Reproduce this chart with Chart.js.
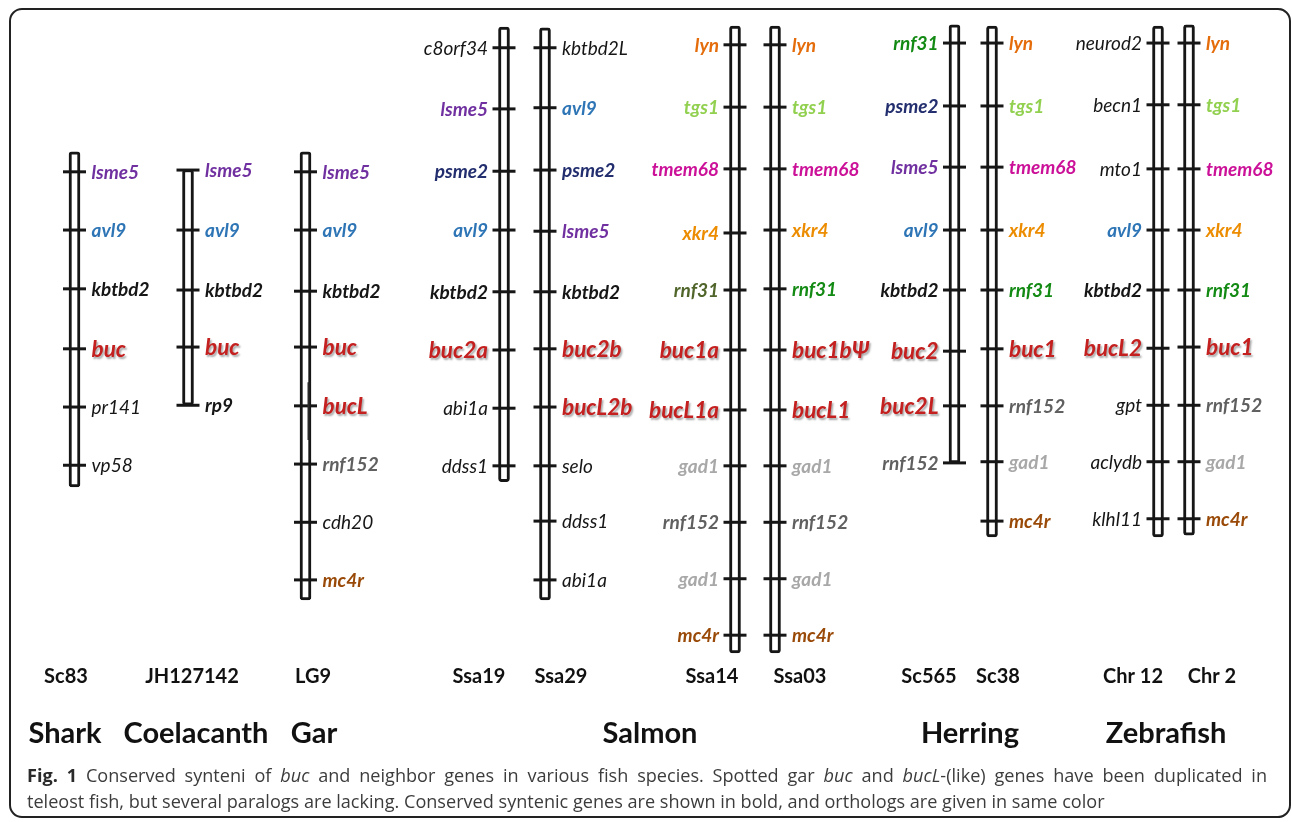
<!DOCTYPE html>
<html>
<head>
<meta charset="utf-8">
<script src="https://cdn.jsdelivr.net/npm/chart.js@4.4.1/dist/chart.umd.min.js"></script>
<style>
  html, body { margin: 0; padding: 0; background: #fff; }
  #wrap { position: relative; width: 1292px; height: 822px; overflow: hidden; }
  #wrap canvas { position: absolute; left: 0; top: 0; }
  #frame {
    position: absolute; left: 9px; top: 8px; width: 1282px; height: 810px;
    border: 2px solid #222; border-radius: 13px; box-sizing: border-box; pointer-events: none;
  }
  #caption {
    position: absolute; left: 27px; top: 762px; white-space: nowrap;
    font-family: "Open Sans", Lato, sans-serif; font-size: 18px; line-height: 26px; color: #3c3c3c;
  }
  #caption b { color: #2a2a2a; }
</style>
</head>
<body>
<div id="wrap">
  <canvas id="chart" width="1292" height="822"></canvas>
  <div id="frame"></div>
  <div id="caption"><span id="cap1"><b>Fig. 1</b> Conserved synteni of <i>buc</i> and neighbor genes in various fish species. Spotted gar <i>buc</i> and <i>bucL</i>-(like) genes have been duplicated in</span><br><span id="cap2">teleost fish, but several paralogs are lacking. Conserved syntenic genes are shown in bold, and orthologs are given in same color</span></div>
</div>
<script>
// ---- chromosomes / scaffolds and the species they belong to ----
const chromosomes = ['Sc83', 'JH127142', 'LG9', 'Ssa19', 'Ssa29', 'Ssa14', 'Ssa03', 'Sc565', 'Sc38', 'Chr 12', 'Chr 2'];
const species = ['Shark', 'Coelacanth', 'Gar', 'Salmon', 'Herring', 'Zebrafish'];

// extent of each drawn chromosome segment (relative position units)
const chromStart = [18.0, 21.0, 18.0, -3.2, -3.1, -3.4, -3.4, -3.6, -3.4, -3.4, -3.6];
const chromEnd   = [75.0, 61.1, 94.2, 74.1, 94.2, 103.2, 103.2, 70.9, 83.5, 83.5, 83.2];

// genes along each chromosome, with their relative positions
const genesSc83 = ['lsme5', 'avl9', 'kbtbd2', 'buc', 'pr141', 'vp58'];
const posSc83   = [21.4, 31.3, 41.3, 51.5, 61.4, 71.3];

const genesJH127142 = ['lsme5', 'avl9', 'kbtbd2', 'buc', 'rp9'];
const posJH127142   = [21.1, 31.3, 41.5, 51.2, 61.1];

const genesLG9 = ['lsme5', 'avl9', 'kbtbd2', 'buc', 'bucL', 'rnf152', 'cdh20', 'mc4r'];
const posLG9   = [21.4, 31.3, 41.7, 51.2, 61.2, 71.1, 81.0, 90.8];

const genesSsa19 = ['c8orf34', 'lsme5', 'psme2', 'avl9', 'kbtbd2', 'buc2a', 'abi1a', 'ddss1'];
const posSsa19   = [0.3, 10.7, 21.3, 31.3, 41.8, 51.7, 61.6, 71.4];

const genesSsa29 = ['kbtbd2L', 'avl9', 'psme2', 'lsme5', 'kbtbd2', 'buc2b', 'bucL2b', 'selo', 'ddss1', 'abi1a'];
const posSsa29   = [0.3, 10.5, 21.1, 31.5, 41.8, 51.5, 61.4, 71.4, 80.8, 90.8];

const genesSsa14 = ['lyn', 'tgs1', 'tmem68', 'xkr4', 'rnf31', 'buc1a', 'bucL1a', 'gad1', 'rnf152', 'gad1', 'mc4r'];
const posSsa14   = [-0.2, 10.4, 20.9, 31.8, 41.5, 51.7, 61.9, 71.4, 81.0, 90.6, 100.2];

const genesSsa03 = ['lyn', 'tgs1', 'tmem68', 'xkr4', 'rnf31', 'buc1b\u03A8', 'bucL1', 'gad1', 'rnf152', 'gad1', 'mc4r'];
const posSsa03   = [-0.2, 10.4, 20.9, 31.3, 41.3, 51.7, 61.9, 71.4, 81.0, 90.6, 100.2];

const genesSc565 = ['rnf31', 'psme2', 'lsme5', 'avl9', 'kbtbd2', 'buc2', 'buc2L', 'rnf152'];
const posSc565   = [-0.5, 10.2, 20.6, 31.3, 41.5, 51.9, 61.2, 70.9];

const genesSc38 = ['lyn', 'tgs1', 'tmem68', 'xkr4', 'rnf31', 'buc1', 'rnf152', 'gad1', 'mc4r'];
const posSc38   = [-0.5, 10.2, 20.6, 31.3, 41.5, 51.5, 61.2, 70.7, 80.8];

const genesChr12 = ['neurod2', 'becn1', 'mto1', 'avl9', 'kbtbd2', 'bucL2', 'gpt', 'aclydb', 'klhl11'];
const posChr12   = [-0.5, 10.0, 20.9, 31.3, 41.5, 51.4, 61.1, 70.7, 80.4];

const genesChr2 = ['lyn', 'tgs1', 'tmem68', 'xkr4', 'rnf31', 'buc1', 'rnf152', 'gad1', 'mc4r'];
const posChr2   = [-0.5, 10.0, 20.9, 31.3, 41.5, 51.2, 61.1, 70.7, 80.4];

const geneLists = [genesSc83, genesJH127142, genesLG9, genesSsa19, genesSsa29, genesSsa14, genesSsa03, genesSc565, genesSc38, genesChr12, genesChr2];
const posLists  = [posSc83, posJH127142, posLG9, posSsa19, posSsa29, posSsa14, posSsa03, posSc565, posSc38, posChr12, posChr2];

// genes outside the conserved syntenic block (drawn in regular weight)
const notConserved = ['pr141', 'vp58', 'cdh20', 'c8orf34', 'abi1a', 'ddss1', 'kbtbd2L', 'selo', 'neurod2', 'becn1', 'mto1', 'gpt', 'aclydb', 'klhl11'];

// ---- styling and layout ----
const orthologColor = {
  lsme5: '#7030a0', avl9: '#2e75b6', psme2: '#222e6e', lyn: '#e46c0a', tgs1: '#92d050',
  tmem68: '#cc1199', xkr4: '#ec8c00', rnf31: '#138a13', gad1: '#a8a8a8', rnf152: '#606060',
  mc4r: '#9a4a08'
};
const colorOverride = { 'Ssa14:rnf31': '#50652a' };
const bucColor = '#c42020';
const ink = '#161616';

const layout = {
  chromX: [74.5, 188, 305.5, 504, 545, 735, 775, 954.5, 992, 1158, 1189],
  labelSide: ['R', 'R', 'R', 'L', 'R', 'L', 'R', 'L', 'R', 'L', 'R'],
  chromLabelX: [66, 192, 313, 479, 561, 712, 800, 929, 998, 1133, 1212],
  chromLabelY: 677,
  speciesX: [65, 196, 314, 650, 970, 1166],
  speciesY: 734,
  font: 'Lato, "Open Sans", sans-serif'
};

const barData = chromosomes.map((c, i) => ({ x: layout.chromX[i], y: [chromStart[i], chromEnd[i]] }));
const tickData = [];
geneLists.forEach((list, i) => list.forEach((g, j) => tickData.push({ x: layout.chromX[i], y: posLists[i][j] })));

// small internal segment drawn inside the gar LG9 bar
const garSegment = [{ x: 308.5, y: 57.2 }, { x: 308.5, y: 67.0 }];

function geneColor(chrom, g) {
  if (colorOverride[chrom + ':' + g]) return colorOverride[chrom + ':' + g];
  if (g.startsWith('buc')) return bucColor;
  return orthologColor[g] || ink;
}

const labelPlugin = {
  id: 'geneLabels',
  afterDatasetsDraw(chart) {
    const ctx = chart.ctx;
    const xs = chart.scales.x, ys = chart.scales.y;
    ctx.save();
    geneLists.forEach((list, i) => {
      const cx = xs.getPixelForValue(layout.chromX[i]);
      const right = layout.labelSide[i] === 'R';
      list.forEach((g, j) => {
        const py = ys.getPixelForValue(posLists[i][j]);
        const isBuc = g.startsWith('buc');
        const bold = !notConserved.includes(g);
        const size = isBuc ? 22.5 : 19;
        ctx.font = 'italic ' + (bold ? '700 ' : '400 ') + size + 'px ' + layout.font;
        ctx.fillStyle = geneColor(chromosomes[i], g);
        ctx.textAlign = right ? 'left' : 'right';
        ctx.textBaseline = 'middle';
        if (isBuc) {
          ctx.shadowColor = 'rgba(0,0,0,0.35)';
          ctx.shadowBlur = 2;
          ctx.shadowOffsetX = 1.5;
          ctx.shadowOffsetY = 1.5;
        } else {
          ctx.shadowColor = 'transparent';
          ctx.shadowBlur = 0;
          ctx.shadowOffsetX = 0;
          ctx.shadowOffsetY = 0;
        }
        ctx.fillText(g, cx + (right ? 17 : -16), py + 1);
      });
    });
    ctx.shadowColor = 'transparent';
    ctx.fillStyle = '#111';
    ctx.textAlign = 'center';
    ctx.textBaseline = 'middle';
    ctx.font = '700 20px ' + layout.font;
    chromosomes.forEach((c, i) => ctx.fillText(c, layout.chromLabelX[i], layout.chromLabelY));
    ctx.font = '700 29px ' + layout.font;
    species.forEach((s, i) => ctx.fillText(s, layout.speciesX[i], layout.speciesY));
    ctx.restore();
  }
};

new Chart(document.getElementById('chart'), {
  data: {
    datasets: [
      {
        type: 'line', data: garSegment, borderColor: '#2a2a2a', borderWidth: 2,
        pointRadius: 0, fill: false, order: 0
      },
      {
        type: 'scatter', data: tickData, pointStyle: 'line', pointRadius: 11.5,
        borderColor: ink, borderWidth: 3, order: 1
      },
      {
        type: 'bar', data: barData, barThickness: 11, backgroundColor: '#fff',
        borderColor: ink, borderWidth: 3, borderSkipped: false, borderRadius: 3, order: 2
      }
    ]
  },
  options: {
    responsive: false,
    animation: false,
    events: [],
    layout: { padding: 0, autoPadding: false },
    plugins: { legend: { display: false }, tooltip: { enabled: false } },
    scales: {
      x: { type: 'linear', min: 0, max: 1292, offset: false, display: false },
      y: { type: 'linear', min: -7.82, max: 131.97, reverse: true, display: false }
    }
  },
  plugins: [labelPlugin]
});

// justified caption: size the text by the last line, then spread the first line's words to full width
(function fitCaption() {
  const cap = document.getElementById('caption');
  const cap1 = document.getElementById('cap1');
  const cap2 = document.getElementById('cap2');
  const lastLine = 1078, fullLine = 1240;
  const w2 = cap2.getBoundingClientRect().width;
  if (w2 > 0) cap.style.fontSize = (18 * lastLine / w2).toFixed(2) + 'px';
  const w1 = cap1.getBoundingClientRect().width;
  const spaces = (cap1.textContent.match(/ /g) || []).length;
  if (w1 > 0 && spaces > 0) cap1.style.wordSpacing = ((fullLine - w1) / spaces).toFixed(3) + 'px';
})();
</script>
</body>
</html>
